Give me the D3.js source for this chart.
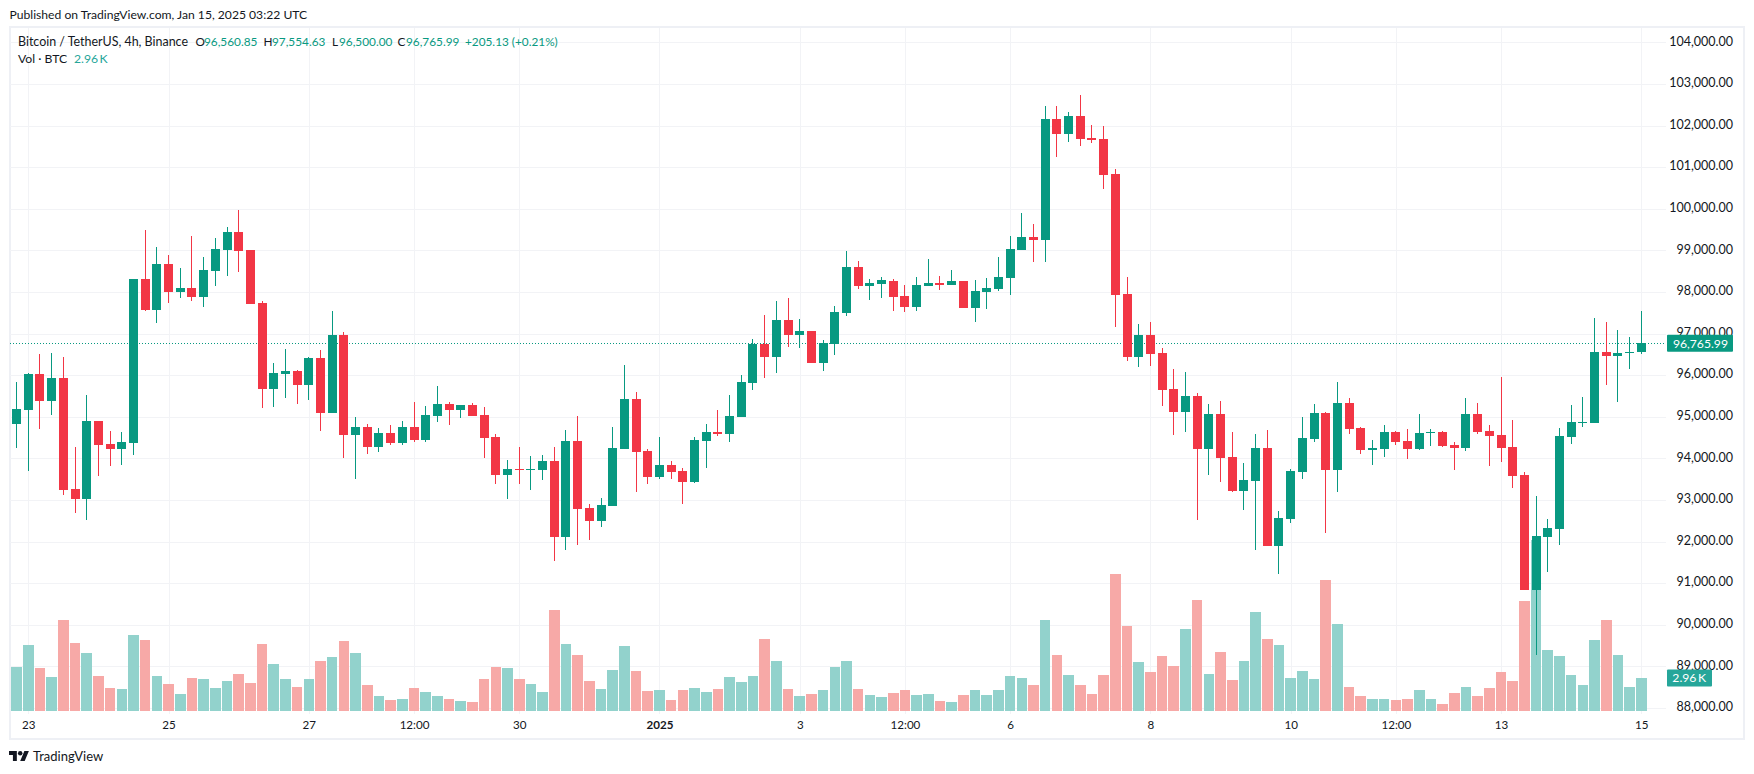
<!DOCTYPE html>
<html>
<head>
<meta charset="utf-8">
<script src="https://cdnjs.cloudflare.com/ajax/libs/d3/7.8.5/d3.min.js"></script>
<style>
    html, body { margin: 0; padding: 0; background: #fff; }
    svg { display: block; }
    text { font-family: "Lato", "Open Sans", sans-serif; fill: #131722; }
</style>
</head>
<body>
<svg id="svg" width="1754" height="774"></svg>
<script>
// 4h candles, first one is Dec 22 20:00 UTC
const open = [
    94827,95164,96029,95380,95933,93265,93024,94899,94346,94226,
    94371,98313,97568,98674,98000,98097,97880,98505,99010,99443,
    99010,97736,95669,96029,96101,95765,96414,95092,96967,94563,
    94755,94274,94611,94371,94755,94443,95019,95308,95164,95284,
    95044,94515,93601,93746,93721,93721,93938,92111,94419,92808,
    92495,92856,94226,95428,94178,93553,93842,93697,93433,94419,
    94635,94587,94996,95813,96750,96438,97327,96967,97063,96294,
    96750,97496,98601,98145,98193,98265,97904,97640,98145,98217,
    98169,98265,97616,98000,98072,98337,99010,99322,99250,102159,
    101799,102231,101702,101678,100837,97952,96438,96967,96534,95669,
    95116,95500,94226,95068,94034,93217,93457,94250,91894,92543,
    93673,94467,95092,93721,95332,94731,94202,94226,94635,94418,
    94226,94611,94635,94322,94250,95068,94659,94564,94275,93602,
    90837,92112,92304,94515,94852,94852,96559,96463,96535,96560.85
]
const high = [
    95837,96053,96510,96534,96438,94274,95524,94910,94659,94635,
    98320,99491,99082,98890,98577,99347,98842,99299,99563,99972,
    99010,97784,96294,96630,96125,96438,96606,97544,97039,94996,
    94827,94731,94803,94899,95356,95260,95741,95356,95290,95332,
    95236,94587,93962,94274,94058,94082,94274,94683,95020,92904,
    93048,94755,96246,95596,94226,94515,93938,93770,94515,94827,
    95164,95524,96005,96871,97448,97784,97856,97351,97063,96847,
    97664,98986,98746,98313,98361,98313,98169,98361,98794,98385,
    98529,98265,98289,98337,98842,99347,99899,99635,102472,102472,
    102327,102736,102015,101991,100957,98361,97231,97279,96654,96149,
    96077,95572,95308,95380,94635,93890,94587,94683,92736,93745,
    94995,95308,95116,95837,95452,94755,94443,94803,94659,94707,
    95068,94707,94659,94394,95452,95332,94803,95958,94924,93674,
    93097,92544,94732,95285,95477,97376,97280,97088,96919,97554.63
]
const low = [
    94250,93697,94707,95044,93120,92688,92520,93577,93818,93842,
    94082,97544,97255,97736,97856,97784,97640,98145,98385,98481,
    97712,95212,95236,95452,95308,95404,94659,95085,94010,93505,
    94106,94154,94322,94322,94395,94395,94875,94803,94972,95019,
    94010,93385,93024,93385,93241,93481,91534,91798,91919,92039,
    92358,92850,94220,93193,93385,93505,93505,92904,93409,93770,
    94539,94395,94990,95645,95933,96053,96678,96654,96294,96101,
    96486,97423,98073,97808,97856,97544,97520,97544,98140,98048,
    98160,97610,97279,97592,98024,97928,99005,98721,98721,101246,
    101606,101510,101582,100476,97159,96342,96197,96221,95260,94563,
    94635,92519,93601,93433,93192,92760,91798,91890,91221,92447,
    93505,94394,92207,93192,94587,94106,93842,94034,94322,93986,
    94202,94298,94274,93721,94178,94587,93818,93914,93290,90830,
    89274,91269,91919,94347,94756,94850,95766,95357,96150,96500
]
const close = [
    95188,96029,95380,95933,93241,93024,94899,94322,94226,94395,
    98313,97568,98674,98000,98097,97880,98529,99034,99443,98986,
    97712,95669,96053,96101,95765,96414,95092,96967,94563,94755,
    94274,94611,94371,94755,94443,95044,95308,95164,95284,95019,
    94491,93601,93746,93721,93746,93938,92111,94419,92784,92495,
    92880,94250,95428,94154,93553,93842,93673,93433,94443,94635,
    94587,95019,95837,96750,96438,97327,96967,97063,96294,96774,
    97520,98601,98145,98217,98289,97880,97640,98169,98217,98169,
    98265,97616,98024,98097,98361,99034,99322,99250,102159,101799,
    102231,101678,101654,100813,97928,96438,96967,96510,95644,95116,
    95500,94226,95068,94010,93217,93481,94250,91894,92568,93697,
    94491,95092,93721,95332,94707,94202,94250,94635,94394,94226,
    94611,94635,94298,94250,95068,94635,94539,94251,93578,90837,
    92136,92328,94540,94876,94876,96559,96463,96535,96559,96765.99
]
// volume in thousands of BTC
const volume = [
    3.95,5.92,3.86,3.05,8.16,6.10,5.20,3.14,2.06,1.97,
    6.82,6.37,3.14,2.42,1.52,2.96,2.87,2.06,2.69,3.32,
    2.51,6.01,4.22,2.87,2.15,2.87,4.48,4.84,6.28,5.20,
    2.33,1.35,0.99,1.08,2.06,1.70,1.35,1.08,0.90,0.81,
    2.87,3.95,3.86,2.87,2.42,1.70,9.06,6.01,5.02,2.69,
    1.97,3.68,5.83,3.59,1.79,1.88,0.99,1.88,2.06,1.70,
    1.97,3.05,2.60,3.14,6.46,4.48,1.97,1.35,1.52,1.88,
    3.95,4.48,1.97,1.43,1.26,1.61,1.88,1.43,1.52,0.90,
    0.81,1.43,1.88,1.43,1.88,3.14,2.96,2.33,8.16,5.02,
    3.23,2.33,1.52,3.23,12.29,7.62,4.39,3.50,4.93,4.04,
    7.35,9.96,3.32,5.29,2.78,4.48,8.88,6.46,5.92,2.96,
    3.59,2.87,11.75,7.80,2.15,1.35,1.08,1.08,0.99,1.08,
    1.88,1.08,0.63,1.61,2.15,1.35,2.06,3.50,2.69,9.87,
    15.34,5.47,4.93,3.23,2.33,6.37,8.16,5.02,2.15,2.96
]

const priceTicks = d3.range(88000, 105000, 1000)
const timeTicks = [
    ['2024-12-23T00:00Z', '23'], ['2024-12-25T00:00Z', '25'], ['2024-12-27T00:00Z', '27'],
    ['2024-12-28T12:00Z', '12:00'], ['2024-12-30T00:00Z', '30'], ['2025-01-01T00:00Z', '2025'],
    ['2025-01-03T00:00Z', '3'], ['2025-01-04T12:00Z', '12:00'], ['2025-01-06T00:00Z', '6'],
    ['2025-01-08T00:00Z', '8'], ['2025-01-10T00:00Z', '10'], ['2025-01-11T12:00Z', '12:00'],
    ['2025-01-13T00:00Z', '13'], ['2025-01-15T00:00Z', '15'],
]
const legendItems = [
    ['Bitcoin / TetherUS, 4h, Binance', 18, 'ink'],
    ['O', 195.5, 'ink'], ['96,560.85', 204, 'up'],
    ['H', 263.5, 'ink'], ['97,554.63', 272, 'up'],
    ['L', 332, 'ink'], ['96,500.00', 339, 'up'],
    ['C', 397.5, 'ink'], ['96,765.99', 406, 'up'],
    ['+205.13 (+0.21%)', 465, 'up'],
]

const upColor = '#089981'
const downColor = '#f23645'
const volUpColor = '#92d2cc'
const volDownColor = '#f7a9a7'
const gridColor = '#f2f3f6'
const frameColor = '#eef0f5'

const startTime = new Date('2024-12-22T20:00Z')
const times = open.map((d, i) => d3.utcHour.offset(startTime, 4 * i))
const lastPrice = close[close.length - 1]
const lastVolume = volume[volume.length - 1]
const volumeLabel = lastVolume.toFixed(2) + '\u2009K'

const svg = d3.select('#svg')

const xScale = d3.scaleUtc()
    .domain([new Date(timeTicks[0][0]), new Date(timeTicks[timeTicks.length - 1][0])])
    .range([28.3, 1641.3])
const yScale = d3.scaleLinear().domain([88000, 104000]).range([708, 42.4])
const volScale = d3.scaleLinear().domain([0, 15.34]).range([711, 540])

const paneLeft = 10, paneRight = 1666, paneTop = 28, paneBottom = 714

// Frame
svg.append('rect')
    .attr('x', 10).attr('y', 27).attr('width', 1734).attr('height', 712)
    .attr('fill', 'none').attr('stroke', frameColor).attr('stroke-width', 2)

// Grid
svg.append('g').selectAll('line').data(priceTicks).join('line')
    .attr('x1', paneLeft).attr('x2', paneRight)
    .attr('y1', d => Math.round(yScale(d)) + 0.5).attr('y2', d => Math.round(yScale(d)) + 0.5)
    .attr('stroke', gridColor)
svg.append('g').selectAll('line').data(timeTicks).join('line')
    .attr('x1', d => Math.round(xScale(new Date(d[0]))) + 0.5)
    .attr('x2', d => Math.round(xScale(new Date(d[0]))) + 0.5)
    .attr('y1', paneTop).attr('y2', paneBottom)
    .attr('stroke', gridColor)

// Volume
const isUp = (i) => close[i] >= open[i]
svg.append('g').attr('shape-rendering', 'crispEdges').selectAll('rect').data(volume).join('rect')
    .attr('x', (d, i) => Math.round(xScale(times[i]) - 5.3))
    .attr('width', (d, i) => Math.round(xScale(times[i]) + 5.3) - Math.round(xScale(times[i]) - 5.3))
    .attr('y', d => volScale(d))
    .attr('height', d => volScale(0) - volScale(d))
    .attr('fill', (d, i) => isUp(i) ? volUpColor : volDownColor)

// Last price line
svg.append('line')
    .attr('x1', paneLeft).attr('x2', paneRight)
    .attr('y1', Math.round(yScale(lastPrice)) + 0.5).attr('y2', Math.round(yScale(lastPrice)) + 0.5)
    .attr('stroke', upColor).attr('stroke-dasharray', '1,2')

// Candles
const candles = svg.append('g').attr('shape-rendering', 'crispEdges')
candles.selectAll('.wick').data(times).join('rect')
    .attr('class', 'wick')
    .attr('x', d => Math.round(xScale(d) - 4.5) + 4)
    .attr('width', 1)
    .attr('y', (d, i) => yScale(high[i]))
    .attr('height', (d, i) => yScale(low[i]) - yScale(high[i]))
    .attr('fill', (d, i) => isUp(i) ? upColor : downColor)
candles.selectAll('.body').data(times).join('rect')
    .attr('class', 'body')
    .attr('x', d => Math.round(xScale(d) - 4.5))
    .attr('width', 9)
    .attr('y', (d, i) => yScale(Math.max(open[i], close[i])))
    .attr('height', (d, i) => Math.max(1, Math.abs(yScale(open[i]) - yScale(close[i]))))
    .attr('fill', (d, i) => isUp(i) ? upColor : downColor)

// Axes
const yAxis = d3.axisRight(yScale).tickValues(priceTicks).tickFormat(d3.format(',.2f')).tickSize(0)
svg.append('g')
    .attr('transform', 'translate(1733,0)')
    .call(yAxis)
    .call(g => g.select('.domain').remove())
    .call(g => g.selectAll('text')
        .attr('x', 0).attr('dy', '0.22em').attr('text-anchor', 'end')
        .attr('font-size', 12.5).attr('font-family', null))

const xAxis = d3.axisBottom(xScale)
    .tickValues(timeTicks.map(d => new Date(d[0])))
    .tickFormat((d, i) => timeTicks[i][1])
    .tickSize(0)
svg.append('g')
    .attr('transform', 'translate(0,719.5)')
    .call(xAxis)
    .call(g => g.select('.domain').remove())
    .call(g => g.selectAll('text')
        .attr('y', 0).attr('dy', '0.85em')
        .attr('font-size', 11.6).attr('font-family', null)
        .attr('font-weight', (d, i) => timeTicks[i][1] === '2025' ? 700 : 400))

// Axis labels for the last values
svg.append('rect').attr('x', 1667).attr('y', yScale(lastPrice) - 8.5).attr('width', 66).attr('height', 17)
    .attr('rx', 1).attr('fill', upColor)
svg.append('text').attr('x', 1728).attr('y', yScale(lastPrice) + 4.3).attr('text-anchor', 'end')
    .attr('font-size', 12.2).style('fill', '#fff').text(d3.format(',.2f')(lastPrice))
svg.append('rect').attr('x', 1667).attr('y', volScale(lastVolume) - 8.5).attr('width', 45).attr('height', 17)
    .attr('rx', 1).attr('fill', '#26a69a')
svg.append('text').attr('x', 1706).attr('y', volScale(lastVolume) + 4.3).attr('text-anchor', 'end')
    .attr('font-size', 12.2).style('fill', '#fff').text(volumeLabel)

// Header and legend
svg.append('text').attr('x', 9.5).attr('y', 19).attr('font-size', 12.15)
    .text('Published on TradingView.com, Jan 15, 2025 03:22 UTC')
svg.append('g').selectAll('text').data(legendItems).join('text')
    .attr('x', d => d[1]).attr('y', 46)
    .attr('font-size', d => d[0].startsWith('Bitcoin') ? 12.45 : 11.8)
    .style('fill', d => d[2] === 'up' ? upColor : '#131722')
    .text(d => d[0])
svg.append('text').attr('x', 18).attr('y', 63).attr('font-size', 12.2).text('Vol · BTC')
svg.append('text').attr('x', 74).attr('y', 63).attr('font-size', 12.2).style('fill', '#26a69a')
    .text(volumeLabel)

// Logo
const logo = svg.append('g').attr('transform', 'translate(9,751) scale(0.56)')
logo.append('path').attr('d', 'M14 18H7V7H0V0h14v18zM28 18h-8L27.5 0h8L28 18z').attr('fill', '#131722')
logo.append('circle').attr('cx', 20).attr('cy', 4).attr('r', 4).attr('fill', '#131722')
svg.append('text').attr('x', 33).attr('y', 761).attr('font-size', 13).text('TradingView')
</script>
</body>
</html>
